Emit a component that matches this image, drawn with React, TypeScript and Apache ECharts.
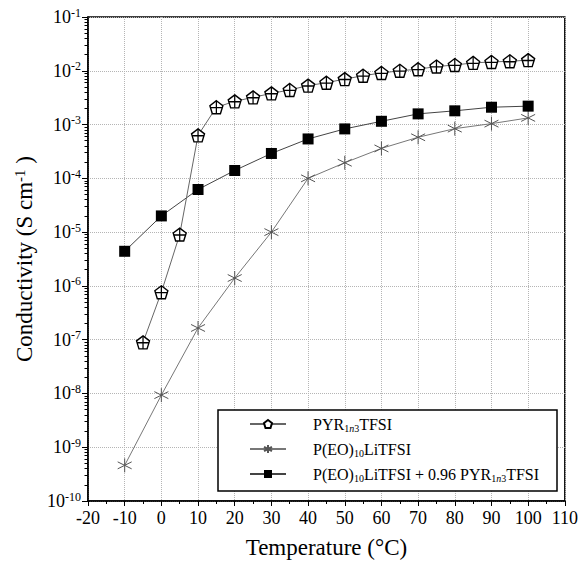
import React, { useEffect, useRef } from "react";
import * as echarts from "echarts";

// ---- data ----
const pyrTemps = [-5, 0, 5, 10, 15, 20, 25, 30, 35, 40, 45, 50, 55, 60, 65, 70, 75, 80, 85, 90, 95, 100];
const pyrValues = [
  8.9e-8, 7.6e-7, 9.0e-6, 6.3e-4, 2.1e-3, 2.7e-3, 3.2e-3, 3.8e-3, 4.4e-3, 5.3e-3, 6.0e-3,
  7.0e-3, 8.1e-3, 9.1e-3, 1.0e-2, 1.07e-2, 1.2e-2, 1.28e-2, 1.4e-2, 1.46e-2, 1.5e-2, 1.58e-2,
];
const peoTemps = [-10, 0, 10, 20, 30, 40, 50, 60, 70, 80, 90, 100];
const peoValues = [4.6e-10, 9.3e-9, 1.65e-7, 1.4e-6, 1.0e-5, 1.0e-4, 1.95e-4, 3.6e-4, 5.8e-4, 8.4e-4, 1.04e-3, 1.33e-3];
const mixTemps = [-10, 0, 10, 20, 30, 40, 50, 60, 70, 80, 90, 100];
const mixValues = [4.4e-6, 2.0e-5, 6.2e-5, 1.4e-4, 2.9e-4, 5.4e-4, 8.3e-4, 1.15e-3, 1.58e-3, 1.8e-3, 2.1e-3, 2.2e-3];

const seriesNames = ["PYR1n3TFSI", "P(EO)10LiTFSI", "P(EO)10LiTFSI + 0.96 PYR1n3TFSI"];
const legendLabels: Record<string, string> = {
  "PYR1n3TFSI": "{t|PYR}{s|1}{si|n}{s|3}{t|TFSI}",
  "P(EO)10LiTFSI": "{t|P(EO)}{s|10}{t|LiTFSI}",
  "P(EO)10LiTFSI + 0.96 PYR1n3TFSI": "{t|P(EO)}{s|10}{t|LiTFSI + 0.96 PYR}{s|1}{si|n}{s|3}{t|TFSI}",
};

const xMin = -20;
const xMax = 110;
const xStep = 10;
const yMinExp = -10;
const yMaxExp = -1;

const FONT = "Liberation Serif";

const pentagonPath = "path://M10,0.5 L19.5,7.4 L15.9,18.5 L4.1,18.5 L0.5,7.4 Z";
const crossPath = "path://M10,0 L10,20 M0,10.6 L20,10.6";
const asteriskPath = "path://M10,0 L10,20 M1.34,5 L18.66,15 M1.34,15 L18.66,5";

function pairs(xs: number[], ys: number[]) {
  return xs.map((x, i) => [x, ys[i]]);
}

export default function App() {
  const ref = useRef<HTMLDivElement>(null);
  useEffect(() => {
    document.body.style.margin = "0";
    if (!ref.current) return;
    const chart = echarts.init(ref.current, undefined, { renderer: "svg" });

    // minor tick positions in exponent space (log10 of 2..9 x 10^e)
    const minorTickExps: number[] = [];
    for (let e = yMinExp; e < yMaxExp; e++) {
      for (let k = 2; k <= 9; k++) minorTickExps.push(e + Math.log10(k));
    }

    const option: any = {
      animation: false,
      backgroundColor: "#fff",
      textStyle: { fontFamily: FONT },
      grid: {
        left: 88,
        right: 15,
        top: 17,
        bottom: 62,
        show: true,
        borderColor: "#000",
        borderWidth: 1.5,
        backgroundColor: "transparent",
      },
      xAxis: {
        type: "value",
        min: xMin,
        max: xMax,
        interval: xStep,
        name: "Temperature (°C)",
        nameLocation: "middle",
        nameGap: 35,
        nameTextStyle: { fontFamily: FONT, fontSize: 23, color: "#000" },
        axisLine: { show: true, onZero: false, lineStyle: { color: "#000", width: 1.5 } },
        axisTick: { show: true, length: 5, lineStyle: { color: "#000", width: 1 } },
        minorTick: { show: true, splitNumber: 2, length: 3, lineStyle: { color: "#000", width: 1 } },
        axisLabel: { fontFamily: FONT, fontSize: 18, color: "#000", margin: 8 },
        splitLine: { show: true, lineStyle: { color: "#b5b5b5", type: "dotted", width: 1 } },
      },
      yAxis: [
        {
          type: "log",
          logBase: 10,
          min: Math.pow(10, yMinExp),
          max: Math.pow(10, yMaxExp),
          splitNumber: 9,
          position: "left",
          name: "{t|Conductivity (S cm}{p|-1}{t| )}",
          nameLocation: "middle",
          nameRotate: 90,
          nameGap: 50,
          nameTextStyle: {
            fontFamily: FONT,
            fontSize: 23,
            color: "#000",
            rich: {
              t: { fontFamily: FONT, fontSize: 23, color: "#000" },
              p: { fontFamily: FONT, fontSize: 15, color: "#000", padding: [0, 0, 10, 0] },
            },
          },
          axisLine: { show: true, onZero: false, lineStyle: { color: "#000", width: 1.5 } },
          axisTick: { show: true, length: 6, lineStyle: { color: "#000", width: 1 } },
          axisLabel: {
            margin: 7,
            formatter: (v: number) => {
              const e = Math.round(Math.log10(v));
              return "{b|10}{p|" + e + "}";
            },
            rich: {
              b: { fontFamily: FONT, fontSize: 18, color: "#000" },
              p: { fontFamily: FONT, fontSize: 12, color: "#000", padding: [0, 0, 9, 0] },
            },
          },
          splitLine: { show: true, lineStyle: { color: "#b5b5b5", type: "dotted", width: 1 } },
        },
        {
          // tick-only companion axis in exponent space for log minor ticks
          type: "value",
          min: yMinExp,
          max: yMaxExp,
          position: "left",
          offset: 0,
          axisLine: { show: false, onZero: false },
          axisLabel: { show: false },
          splitLine: { show: false },
          axisTick: {
            show: true,
            length: 3.5,
            customValues: minorTickExps,
            lineStyle: { color: "#000", width: 1 },
          },
        },
      ],
      legend: {
        data: seriesNames,
        orient: "vertical",
        left: 249,
        top: 415,
        padding: 0,
        itemWidth: 36,
        itemHeight: 10,
        itemGap: 7,
        z: 6,
        formatter: (name: string) => legendLabels[name] || name,
        textStyle: {
          fontFamily: FONT,
          fontSize: 16,
          color: "#000",
          padding: [0, 0, 0, 22],
          rich: {
            t: { fontFamily: FONT, fontSize: 16, color: "#000", lineHeight: 20 },
            s: { fontFamily: FONT, fontSize: 10, color: "#000", lineHeight: 20, padding: [8, 0, 0, 0] },
            si: {
              fontFamily: FONT,
              fontSize: 10,
              fontStyle: "italic",
              color: "#000",
              lineHeight: 20,
              padding: [8, 0, 0, 0],
            },
          },
        },
      },
      graphic: [
        {
          type: "rect",
          z: 5,
          shape: { x: 218, y: 410, width: 339, height: 81 },
          style: { fill: "#fff", stroke: "#000", lineWidth: 1.5 },
        },
      ],
      series: [
        {
          name: seriesNames[1],
          type: "line",
          data: pairs(peoTemps, peoValues),
          symbol: asteriskPath,
          symbolSize: 14,
          lineStyle: { color: "#777", width: 1 },
          itemStyle: { color: "#666", borderColor: "#555", borderWidth: 1 },
        },
        {
          name: seriesNames[2],
          type: "line",
          data: pairs(mixTemps, mixValues),
          symbol: "rect",
          symbolSize: 11,
          lineStyle: { color: "#444", width: 1 },
          itemStyle: { color: "#000", borderColor: "#000", borderWidth: 0 },
        },
        {
          name: seriesNames[0],
          type: "line",
          data: pairs(pyrTemps, pyrValues),
          symbol: pentagonPath,
          symbolSize: 13,
          lineStyle: { color: "#666", width: 1 },
          itemStyle: { color: "#fff", borderColor: "#000", borderWidth: 1.4 },
        },
        {
          name: "pyrCross",
          type: "scatter",
          data: pairs(pyrTemps, pyrValues),
          symbol: crossPath,
          symbolSize: [11.9, 13],
          silent: true,
          z: 4,
          itemStyle: { color: "#000", borderColor: "#000", borderWidth: 1.3, opacity: 1 },
        },
      ],
    };
    chart.setOption(option);
    return () => chart.dispose();
  }, []);
  return <div ref={ref} style={{ width: 581, height: 564 }} />;
}
